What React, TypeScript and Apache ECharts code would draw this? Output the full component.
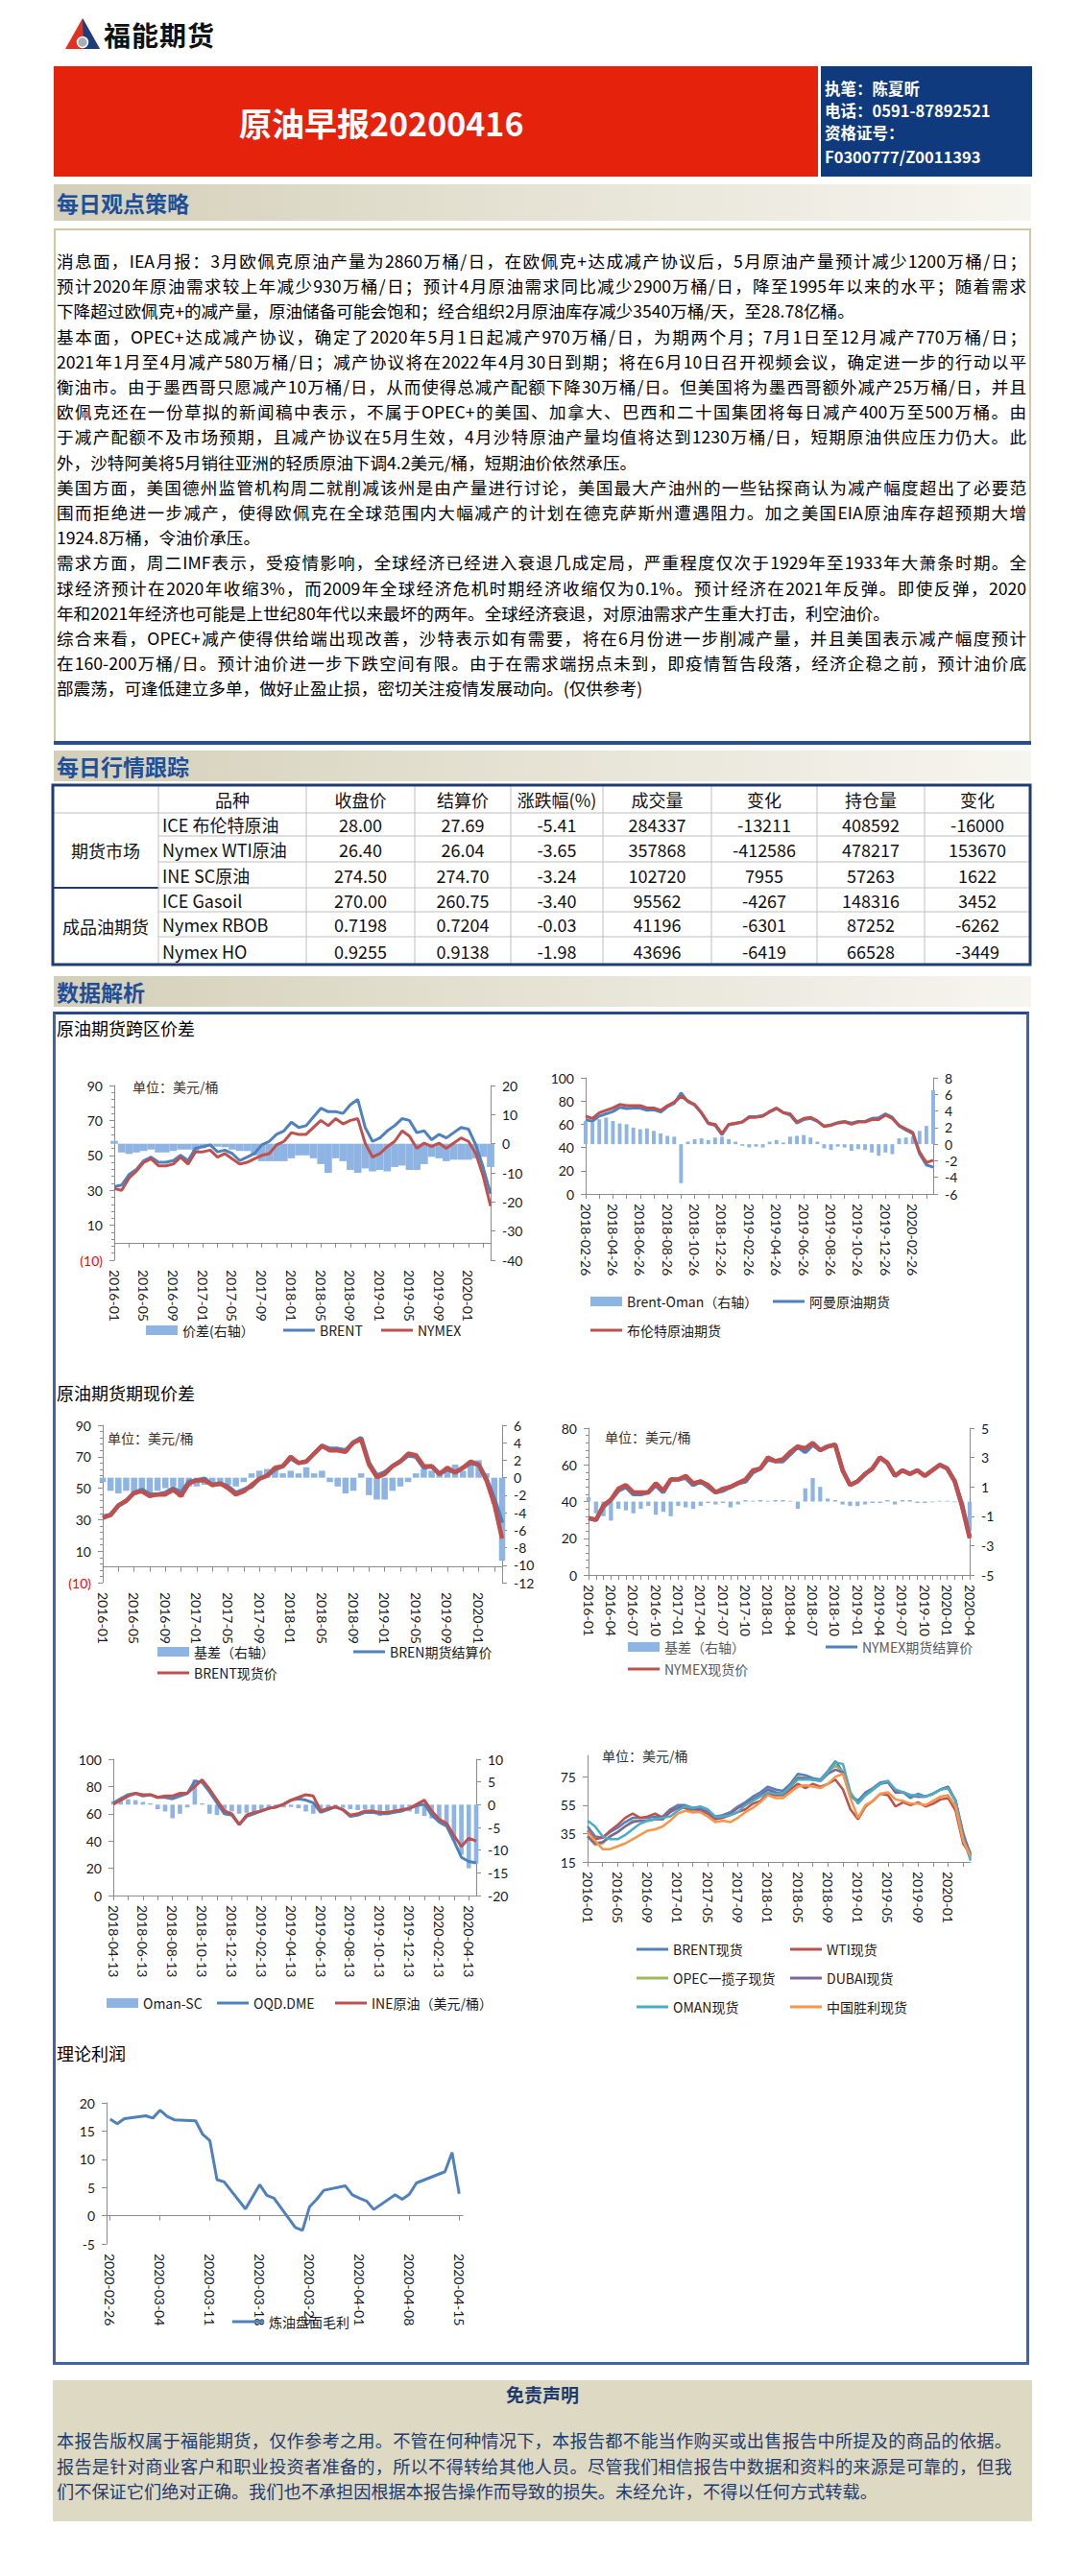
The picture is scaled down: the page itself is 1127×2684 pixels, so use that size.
import React, { useEffect, useRef } from "react";
import * as echarts from "echarts";

const FONT_CN = '"Noto Sans CJK SC", "Noto Sans", sans-serif';
const FONT_NUM = 'Lato, "Noto Sans CJK SC", sans-serif';

/* ---------------- report text ---------------- */
const strategyLines = [
  "消息面，IEA月报：3月欧佩克原油产量为2860万桶/日，在欧佩克+达成减产协议后，5月原油产量预计减少1200万桶/日；",
  "预计2020年原油需求较上年减少930万桶/日；预计4月原油需求同比减少2900万桶/日，降至1995年以来的水平；随着需求",
  "下降超过欧佩克+的减产量，原油储备可能会饱和；经合组织2月原油库存减少3540万桶/天，至28.78亿桶。",
  "基本面，OPEC+达成减产协议，确定了2020年5月1日起减产970万桶/日，为期两个月；7月1日至12月减产770万桶/日；",
  "2021年1月至4月减产580万桶/日；减产协议将在2022年4月30日到期；将在6月10日召开视频会议，确定进一步的行动以平",
  "衡油市。由于墨西哥只愿减产10万桶/日，从而使得总减产配额下降30万桶/日。但美国将为墨西哥额外减产25万桶/日，并且",
  "欧佩克还在一份草拟的新闻稿中表示，不属于OPEC+的美国、加拿大、巴西和二十国集团将每日减产400万至500万桶。由",
  "于减产配额不及市场预期，且减产协议在5月生效，4月沙特原油产量均值将达到1230万桶/日，短期原油供应压力仍大。此",
  "外，沙特阿美将5月销往亚洲的轻质原油下调4.2美元/桶，短期油价依然承压。",
  "美国方面，美国德州监管机构周二就削减该州是由产量进行讨论，美国最大产油州的一些钻探商认为减产幅度超出了必要范",
  "围而拒绝进一步减产，使得欧佩克在全球范围内大幅减产的计划在德克萨斯州遭遇阻力。加之美国EIA原油库存超预期大增",
  "1924.8万桶，令油价承压。",
  "需求方面，周二IMF表示，受疫情影响，全球经济已经进入衰退几成定局，严重程度仅次于1929年至1933年大萧条时期。全",
  "球经济预计在2020年收缩3%，而2009年全球经济危机时期经济收缩仅为0.1%。预计经济在2021年反弹。即使反弹，2020",
  "年和2021年经济也可能是上世纪80年代以来最坏的两年。全球经济衰退，对原油需求产生重大打击，利空油价。",
  "综合来看，OPEC+减产使得供给端出现改善，沙特表示如有需要，将在6月份进一步削减产量，并且美国表示减产幅度预计",
  "在160-200万桶/日。预计油价进一步下跌空间有限。由于在需求端拐点未到，即疫情暂告段落，经济企稳之前，预计油价底",
  "部震荡，可逢低建立多单，做好止盈止损，密切关注疫情发展动向。(仅供参考)",
];
const paragraphEnds = [2, 8, 11, 14, 17];

const disclaimerLines = [
  "本报告版权属于福能期货，仅作参考之用。不管在何种情况下，本报告都不能当作购买或出售报告中所提及的商品的依据。",
  "报告是针对商业客户和职业投资者准备的，所以不得转给其他人员。尽管我们相信报告中数据和资料的来源是可靠的，但我",
  "们不保证它们绝对正确。我们也不承担因根据本报告操作而导致的损失。未经允许，不得以任何方式转载。",
];

/* ---------------- market table ---------------- */
const tableHeader = ["品种", "收盘价", "结算价", "涨跌幅(%)", "成交量", "变化", "持仓量", "变化"];
const tableGroups = ["期货市场", "成品油期货"];
const products = ["ICE 布伦特原油", "Nymex WTI原油", "INE SC原油", "ICE Gasoil", "Nymex RBOB", "Nymex HO"];
const closePrice = ["28.00", "26.40", "274.50", "270.00", "0.7198", "0.9255"];
const settlePrice = ["27.69", "26.04", "274.70", "260.75", "0.7204", "0.9138"];
const changePct = ["-5.41", "-3.65", "-3.24", "-3.40", "-0.03", "-1.98"];
const volume = ["284337", "357868", "102720", "95562", "41196", "43696"];
const volumeChange = ["-13211", "-412586", "7955", "-4267", "-6301", "-6419"];
const openInterest = ["408592", "478217", "57263", "148316", "87252", "66528"];
const oiChange = ["-16000", "153670", "1622", "3452", "-6262", "-3449"];

/* ---------------- chart data ---------------- */
const monthLabels = [
  "2016-01", "2016-02", "2016-03", "2016-04", "2016-05", "2016-06", "2016-07", "2016-08", "2016-09", "2016-10", "2016-11", "2016-12",
  "2017-01", "2017-02", "2017-03", "2017-04", "2017-05", "2017-06", "2017-07", "2017-08", "2017-09", "2017-10", "2017-11", "2017-12",
  "2018-01", "2018-02", "2018-03", "2018-04", "2018-05", "2018-06", "2018-07", "2018-08", "2018-09", "2018-10", "2018-11", "2018-12",
  "2019-01", "2019-02", "2019-03", "2019-04", "2019-05", "2019-06", "2019-07", "2019-08", "2019-09", "2019-10", "2019-11", "2019-12",
  "2020-01", "2020-02", "2020-03", "2020-04",
];

// chart 1: 原油期货跨区价差
const brentFutures = [32, 33, 39, 42, 47, 49, 46, 46, 47, 50, 47, 54, 55, 56, 52, 53, 51, 47, 49, 51, 56, 58, 62, 64, 69, 66, 67, 72, 77, 75, 75, 74, 79, 82, 66, 58, 60, 64, 67, 71, 70, 63, 64, 59, 62, 60, 63, 66, 65, 56, 43, 28];
const nymexFutures = [31, 30, 37, 41, 46, 48, 44, 44, 45, 49, 45, 52, 52, 53, 49, 51, 48, 45, 46, 48, 50, 51, 56, 58, 63, 62, 62, 66, 70, 67, 71, 68, 70, 71, 57, 49, 51, 55, 58, 64, 61, 54, 57, 55, 57, 54, 57, 60, 58, 51, 38, 21];
const interRegionSpread = [1.0, -3.0, -3.5, -3.0, -2.5, -2.0, -3.0, -3.0, -2.5, -2.0, -2.0, -2.5, -1.5, -1.0, -1.0, -1.2, -2.0, -2.5, -2.5, -4.0, -6.0, -6.0, -6.0, -6.0, -5.0, -4.0, -4.0, -5.0, -7.0, -10.0, -5.0, -6.0, -9.0, -10.0, -8.5, -9.5, -9.0, -9.5, -8.0, -7.5, -9.0, -9.0, -7.0, -4.5, -5.0, -6.0, -5.5, -5.5, -5.5, -5.0, -4.5, -8.0];

// chart 2: Brent-Oman
const c2Dates = [
  "2018-02-26", "2018-03-11", "2018-03-26", "2018-04-11", "2018-04-26", "2018-05-11", "2018-05-26", "2018-06-11", "2018-06-26", "2018-07-11", "2018-07-26", "2018-08-11", "2018-08-26",
  "2018-09-11", "2018-09-26", "2018-10-11", "2018-10-26", "2018-11-11", "2018-11-26", "2018-12-11", "2018-12-26", "2019-01-11", "2019-01-26", "2019-02-11", "2019-02-26", "2019-03-11",
  "2019-03-26", "2019-04-11", "2019-04-26", "2019-05-11", "2019-05-26", "2019-06-11", "2019-06-26", "2019-07-11", "2019-07-26", "2019-08-11", "2019-08-26", "2019-09-11", "2019-09-26",
  "2019-10-11", "2019-10-26", "2019-11-11", "2019-11-26", "2019-12-11", "2019-12-26", "2020-01-11", "2020-01-26", "2020-02-11", "2020-02-26", "2020-03-11", "2020-03-26", "2020-04-11",
];
const brentC2 = [67, 65, 70, 72, 74, 77, 76, 76, 76, 74, 74, 72, 76, 79, 84, 80, 77, 70, 61, 60, 52, 60, 61, 62, 66, 66, 67, 71, 74, 70, 69, 62, 65, 66, 63, 58, 59, 61, 62, 60, 62, 62, 64, 64, 68, 65, 59, 56, 53, 36, 27, 29];
const omanC2 = [64, 62.5, 67, 69, 71, 74.5, 73.5, 74, 74, 72, 72.5, 70.5, 75, 78, 87, 79.5, 76.5, 69.5, 60.5, 59, 51, 59.5, 60.5, 62, 66.5, 66.5, 67.5, 70.5, 73.5, 70, 68, 61, 64, 65, 62.5, 58.5, 59.5, 61.5, 62.5, 61, 62.5, 62.5, 65, 65.5, 69, 66, 58.5, 55, 52, 34.5, 25, 23];
const brentOmanSpread = [2.8, 2.6, 3.0, 3.2, 2.8, 2.5, 2.4, 2.0, 1.8, 1.9, 1.6, 1.3, 1.0, 0.9, -4.7, 0.3, 0.6, 0.7, 0.5, 0.8, 0.9, 0.6, 0.3, -0.2, -0.4, -0.3, -0.4, 0.3, 0.5, 0.2, 0.9, 1.0, 1.1, 0.8, 0.3, -0.5, -0.7, -0.3, -0.4, -0.8, -0.6, -0.7, -1.0, -1.4, -1.0, -1.2, 0.7, 0.8, 0.9, 1.6, 2.2, 6.5];

// chart 3: BRENT 期现价差
const brentSpot = [31, 33, 39, 42, 47, 48, 45, 46, 46, 49, 45, 53, 55, 55, 52, 53, 50, 46, 48, 52, 56, 58, 63, 64, 70, 66, 67, 72, 77, 74, 74, 73, 79, 81, 65, 57, 59, 64, 67, 72, 71, 64, 64, 59, 63, 60, 63, 67, 65, 55, 40, 18];
const brentBasis = [-0.5, -1.5, -1.8, -1.5, -2.0, -1.5, -1.8, -1.5, -1.2, -1.0, -2.2, -1.0, -1.0, -0.8, -0.8, -1.0, -0.8, -1.0, -0.5, 0.5, 0.8, 1.0, 1.2, 0.5, 0.8, 0.5, 1.2, 0.5, 0.8, -0.5, -1.0, -1.8, -1.5, 0.5, -2.0, -2.5, -2.5, -1.5, -1.0, -0.5, 0.5, 1.0, 0.8, 0.5, 1.0, 1.5, 0.8, 1.5, 2.0, 0.5, -3.0, -9.5];

// chart 4: NYMEX 期现价差
const nymexSpot = [31, 30, 38, 41, 47, 49, 45, 45, 45, 50, 46, 52, 52, 54, 50, 51, 49, 45, 47, 48, 50, 52, 57, 58, 64, 62, 63, 67, 70, 69, 72, 68, 70, 71, 57, 49, 51, 55, 58, 64, 61, 54, 57, 55, 57, 54, 57, 60, 58, 51, 37, 20];
const nymexBasis = [0.3, -0.8, -1.0, -1.3, -0.5, -0.6, -0.8, -0.5, -0.3, -0.9, -0.7, -1.0, -0.3, -0.4, -0.5, -0.3, -0.1, -0.2, -0.1, -0.4, -0.2, 0.1, 0.05, 0.1, 0.05, 0.1, 0.1, 0.05, -0.5, 0.9, 1.6, 1.0, 0.2, 0.1, -0.2, -0.3, -0.3, -0.2, -0.1, -0.1, 0.1, -0.2, 0.1, 0.1, -0.1, -0.1, -0.05, 0.05, 0.05, -0.05, -0.5, -2.0];

// chart 5: Oman-SC
const c5Dates = [
  "2018-04-13", "2018-04-28", "2018-05-13", "2018-05-28", "2018-06-13", "2018-06-28", "2018-07-13", "2018-07-28", "2018-08-13", "2018-08-28", "2018-09-13", "2018-09-28",
  "2018-10-13", "2018-10-28", "2018-11-13", "2018-11-28", "2018-12-13", "2018-12-28", "2019-01-13", "2019-01-28", "2019-02-13", "2019-02-28", "2019-03-13", "2019-03-28",
  "2019-04-13", "2019-04-28", "2019-05-13", "2019-05-28", "2019-06-13", "2019-06-28", "2019-07-13", "2019-07-28", "2019-08-13", "2019-08-28", "2019-09-13", "2019-09-28",
  "2019-10-13", "2019-10-28", "2019-11-13", "2019-11-28", "2019-12-13", "2019-12-28", "2020-01-13", "2020-01-28", "2020-02-13", "2020-02-28", "2020-03-13", "2020-03-28",
  "2020-04-13", "2020-04-15",
];
const oqdDme = [68, 71, 74, 75, 73, 74, 72, 72, 71, 73, 75, 84, 83, 76, 68, 60, 59, 52, 58, 60, 62, 64, 65, 67, 70, 71, 70, 68, 61, 63, 65, 63, 58, 59, 61, 61, 60, 60, 61, 62, 64, 66, 67, 59, 54, 51, 40, 28, 25, 24];
const ineCrudeUsd = [67, 70, 73, 75, 74, 74, 72, 73, 73, 75, 75, 80, 85, 78, 70, 62, 60, 52, 59, 61, 62, 64, 65, 67, 70, 72, 74, 73, 62, 64, 65, 63, 59, 60, 62, 62, 61, 61, 62, 63, 64, 67, 70, 62, 56, 53, 44, 36, 42, 40];
const omanScSpread = [0.8, 1.0, 1.2, 1.0, 0.6, 0.3, -1.0, -1.5, -3.0, -2.0, -0.6, 5.5, 0.3, -2.0, -2.3, -1.8, -1.5, -2.0, -1.8, -1.5, -1.2, -1.0, -0.8, -0.6, -0.5, -0.8, -1.5, -2.0, -1.5, -1.2, -0.8, -0.7, -1.0, -1.2, -1.0, -1.3, -2.5, -1.8, -1.2, -1.3, -1.5, -2.0, -2.5, -3.0, -3.5, -4.5, -8.0, -11.0, -14.0, -13.0];

// chart 6: 现货
const spotBrent6 = [40, 33, 32, 36, 39, 43, 46, 46, 46, 47, 47, 52, 55, 55, 53, 53, 51, 47, 48, 50, 54, 57, 61, 64, 68, 66, 65, 70, 77, 76, 74, 73, 79, 86, 78, 62, 58, 64, 67, 71, 72, 64, 64, 60, 63, 61, 63, 66, 67, 58, 34, 21];
const spotWti6 = [37, 31, 32, 37, 41, 46, 49, 46, 47, 49, 46, 51, 53, 53, 50, 51, 49, 45, 46, 48, 50, 52, 56, 58, 63, 62, 62, 66, 70, 67, 70, 68, 70, 73, 66, 52, 45, 54, 58, 63, 62, 54, 57, 55, 57, 54, 56, 59, 60, 51, 28, 20];
const spotOpec6 = [33, 27, 28, 33, 36, 40, 44, 44, 44, 45, 45, 50, 53, 54, 52, 52, 50, 46, 47, 49, 53, 56, 59, 62, 66, 64, 63, 68, 75, 74, 73, 72, 78, 83, 78, 62, 57, 62, 66, 70, 71, 64, 64, 62, 61, 61, 63, 66, 68, 58, 36, 18];
const spotDubai6 = [33, 28, 29, 33, 36, 40, 43, 44, 44, 45, 45, 50, 53, 54, 52, 52, 50, 46, 47, 49, 53, 56, 59, 62, 66, 64, 63, 68, 74, 74, 73, 72, 77, 80, 78, 62, 57, 62, 66, 70, 71, 64, 64, 62, 61, 61, 63, 66, 68, 58, 35, 19];
const spotOman6 = [44, 40, 33, 31, 31, 34, 38, 42, 44, 45, 46, 47, 51, 54, 53, 54, 52, 47, 47, 48, 50, 55, 58, 61, 64, 63, 63, 68, 73, 73, 73, 72, 78, 85, 84, 64, 56, 62, 66, 70, 72, 66, 64, 62, 62, 61, 63, 66, 67, 58, 32, 16];
const spotShengli6 = [36, 30, 24, 24, 26, 28, 31, 34, 37, 38, 40, 44, 49, 51, 50, 50, 47, 43, 44, 43, 46, 50, 53, 57, 62, 60, 60, 64, 68, 69, 68, 67, 70, 75, 77, 60, 46, 55, 58, 63, 64, 59, 58, 56, 56, 55, 58, 61, 62, 54, 30, 19];

// chart 7: 理论利润
const profitDates = [
  "2020-02-26", "2020-02-27", "2020-02-28", "2020-02-29", "2020-03-01", "2020-03-02", "2020-03-03", "2020-03-04", "2020-03-05", "2020-03-06",
  "2020-03-07", "2020-03-08", "2020-03-09", "2020-03-10", "2020-03-11", "2020-03-12", "2020-03-13", "2020-03-14", "2020-03-15", "2020-03-16",
  "2020-03-17", "2020-03-18", "2020-03-19", "2020-03-20", "2020-03-21", "2020-03-22", "2020-03-23", "2020-03-24", "2020-03-25", "2020-03-26",
  "2020-03-27", "2020-03-28", "2020-03-29", "2020-03-30", "2020-03-31", "2020-04-01", "2020-04-02", "2020-04-03", "2020-04-04", "2020-04-05",
  "2020-04-06", "2020-04-07", "2020-04-08", "2020-04-09", "2020-04-10", "2020-04-11", "2020-04-12", "2020-04-13", "2020-04-14", "2020-04-15",
];
const refiningMargin = [17.1, 16.3, 17.2, null, null, 17.7, 17.3, 18.7, 17.6, 17.0, null, null, 16.8, 14.4, 13.3, 6.4, 6.0, null, null, 1.2, null, 5.5, 3.6, 3.1, null, null, -2.1, -2.6, 1.6, 2.9, 4.5, null, null, 5.3, 3.7, 3.1, 2.6, 1.1, null, null, 3.7, 2.9, 3.8, 5.8, null, null, null, 7.8, 11.2, 3.9];

/* ---------------- chart helpers ---------------- */
const BLUE = "#4F81BD";
const RED = "#C0504D";
const GREEN = "#9BBB59";
const PURPLE = "#8064A2";
const AQUA = "#4BACC6";
const ORANGE = "#F79646";
const BAR = "#8EB4E3";
const AXIS = "#8C8C8C";
const TXT = "#1A1A1A";

function catAxis(data: string[], labelInterval: number, tickInterval: number, boundaryGap = false) {
  return {
    type: "category",
    data,
    boundaryGap,
    axisLine: { show: true, onZero: true, onZeroAxisIndex: 0, lineStyle: { color: AXIS, width: 1 } },
    axisTick: { show: true, interval: tickInterval, length: 5, alignWithLabel: boundaryGap, lineStyle: { color: AXIS } },
    axisLabel: { interval: labelInterval, rotate: -90, margin: 10, fontSize: 14, color: TXT, fontFamily: FONT_NUM },
    splitLine: { show: false },
  };
}

function valAxis(position: string, min: number, max: number, interval: number, o: any = {}) {
  const axisLabel: any = { margin: 12, fontSize: 14, color: TXT, fontFamily: FONT_NUM };
  if (o.paren) {
    axisLabel.formatter = (v: number) => (v < 0 ? `{neg|(${-v})}` : String(v));
    axisLabel.rich = { neg: { color: "#FF0000", fontSize: 14, fontFamily: FONT_NUM } };
  }
  if (o.hideMax) axisLabel.showMaxLabel = false;
  return {
    type: "value",
    position,
    min,
    max,
    interval,
    axisLine: { show: true, lineStyle: { color: AXIS, width: 1 } },
    axisTick: { show: true, length: 5, lineStyle: { color: AXIS } },
    minorTick: { show: !!o.minor, splitNumber: 5, length: 3, lineStyle: { color: AXIS } },
    splitLine: { show: false },
    minorSplitLine: { show: false },
    axisLabel,
  };
}

function legendItem(name: string, left: number, centerY: number, kind: string, color = TXT) {
  return {
    show: true,
    data: [name],
    left,
    top: centerY - 8,
    icon: "rect",
    itemWidth: 33,
    itemHeight: kind === "bar" ? 10 : 3,
    itemGap: 0,
    padding: 0,
    selectedMode: false,
    textStyle: { fontSize: 14, color, fontFamily: FONT_CN },
  };
}

function textEl(text: string, left: number, centerY: number, size: number, color: string) {
  return {
    type: "text",
    left,
    top: centerY - size * 0.62,
    silent: true,
    style: { text, fontSize: size, fontFamily: FONT_CN, fill: color },
  };
}

function lineSeries(name: string, data: any[], color: string, width: number, extra: any = {}) {
  return {
    name,
    type: "line",
    data,
    symbol: "none",
    lineStyle: { width, color },
    itemStyle: { color },
    z: 3,
    ...extra,
  };
}

function barSeries(name: string, data: number[], width: string) {
  return {
    name,
    type: "bar",
    yAxisIndex: 1,
    data,
    barWidth: width,
    itemStyle: { color: BAR },
    z: 2,
  };
}

function gridBox(left: number, top: number, width: number, height: number) {
  return { left, top, width, height, containLabel: false, outerBoundsMode: "none" };
}

/* ---------------- chart options ---------------- */
const opt1 = {
  animation: false,
  graphic: [textEl("原油期货跨区价差", 2, 15, 18, "#000"), textEl("单位：美元/桶", 81, 76, 14, "#333")],
  grid: gridBox(62, 73, 392, 182),
  legend: [
    legendItem("价差(右轴）", 95, 329, "bar"),
    legendItem("BRENT", 238, 329, "line"),
    legendItem("NYMEX", 340, 329, "line"),
  ],
  xAxis: catAxis(monthLabels, 3, 1),
  yAxis: [valAxis("left", -10, 90, 20, { minor: true, paren: true }), valAxis("right", -40, 20, 10)],
  series: [
    barSeries("价差(右轴）", interRegionSpread, "100%"),
    lineSeries("BRENT", brentFutures, BLUE, 3),
    lineSeries("NYMEX", nymexFutures, RED, 3),
  ],
};

const opt2 = {
  animation: false,
  grid: gridBox(50, 65, 362, 121),
  legend: [
    legendItem("Brent-Oman（右轴）", 55, 299, "bar"),
    legendItem("阿曼原油期货", 245, 299, "line"),
    legendItem("布伦特原油期货", 55, 329, "line"),
  ],
  xAxis: catAxis(c2Dates, 3, 1),
  yAxis: [valAxis("left", 0, 100, 20), valAxis("right", -6, 8, 2)],
  series: [
    barSeries("Brent-Oman（右轴）", brentOmanSpread, "55%"),
    lineSeries("阿曼原油期货", omanC2, BLUE, 3),
    lineSeries("布伦特原油期货", brentC2, RED, 3),
  ],
};

const opt3 = {
  animation: false,
  graphic: [textEl("原油期货期现价差", 2, 23, 18, "#000"), textEl("单位：美元/桶", 55, 70, 14, "#333")],
  grid: gridBox(50, 55, 416, 164),
  legend: [
    legendItem("基差（右轴）", 107, 292, "bar"),
    legendItem("BREN期货结算价", 311, 292, "line"),
    legendItem("BRENT现货价", 107, 314, "line"),
  ],
  xAxis: catAxis(monthLabels, 3, 1),
  yAxis: [valAxis("left", -10, 90, 20, { minor: true, paren: true }), valAxis("right", -12, 6, 2)],
  series: [
    barSeries("基差（右轴）", brentBasis, "80%"),
    lineSeries("BREN期货结算价", brentFutures, BLUE, 4.5),
    lineSeries("BRENT现货价", brentSpot, RED, 4.5),
  ],
};

const opt4 = {
  animation: false,
  graphic: [textEl("单位：美元/桶", 70, 69, 14, "#333")],
  grid: gridBox(53, 58, 397, 153),
  legend: [
    legendItem("基差（右轴）", 94, 287, "bar", "#595959"),
    legendItem("NYMEX期货结算价", 300, 287, "line", "#595959"),
    legendItem("NYMEX现货价", 94, 310, "line", "#595959"),
  ],
  xAxis: catAxis(monthLabels, 2, 0),
  yAxis: [valAxis("left", 0, 80, 20, { minor: true }), valAxis("right", -5, 5, 2)],
  series: [
    barSeries("基差（右轴）", nymexBasis, "55%"),
    lineSeries("NYMEX期货结算价", nymexFutures, BLUE, 4.5),
    lineSeries("NYMEX现货价", nymexSpot, RED, 4.5),
  ],
};

const opt5 = {
  animation: false,
  grid: gridBox(61, 28, 378, 142),
  legend: [
    legendItem("Oman-SC", 54, 283, "bar"),
    legendItem("OQD.DME", 169, 283, "line"),
    legendItem("INE原油（美元/桶）", 292, 283, "line"),
  ],
  xAxis: catAxis(c5Dates, 3, 1),
  yAxis: [valAxis("left", 0, 100, 20), valAxis("right", -20, 10, 5)],
  series: [
    barSeries("Oman-SC", omanScSpread, "60%"),
    lineSeries("OQD.DME", oqdDme, BLUE, 3),
    lineSeries("INE原油（美元/桶）", ineCrudeUsd, RED, 3),
  ],
};

const opt6 = {
  animation: false,
  graphic: [textEl("单位：美元/桶", 67, 26, 14, "#333")],
  grid: gridBox(52, 24, 399, 111),
  legend: [
    legendItem("BRENT现货", 103, 227, "line"),
    legendItem("WTI现货", 263, 227, "line"),
    legendItem("OPEC一揽子现货", 103, 257, "line"),
    legendItem("DUBAI现货", 263, 257, "line"),
    legendItem("OMAN现货", 103, 287, "line"),
    legendItem("中国胜利现货", 263, 287, "line"),
  ],
  xAxis: catAxis(monthLabels, 3, 1),
  yAxis: [valAxis("left", 15, 90, 20, { hideMax: true })],
  series: [
    lineSeries("BRENT现货", spotBrent6, BLUE, 2.5),
    lineSeries("WTI现货", spotWti6, RED, 2.5),
    lineSeries("OPEC一揽子现货", spotOpec6, GREEN, 2.5),
    lineSeries("DUBAI现货", spotDubai6, PURPLE, 2.5),
    lineSeries("OMAN现货", spotOman6, AQUA, 2.5),
    lineSeries("中国胜利现货", spotShengli6, ORANGE, 2.5),
  ],
};

const opt7 = {
  animation: false,
  graphic: [textEl("理论利润", 2, 16, 18, "#000")],
  grid: gridBox(54, 66, 371, 147),
  legend: [legendItem("炼油盘面毛利", 185, 295, "line")],
  xAxis: catAxis(profitDates, 6, 6, true),
  yAxis: [valAxis("left", -5, 20, 5)],
  series: [lineSeries("炼油盘面毛利", refiningMargin, BLUE, 3, { connectNulls: true })],
};

/* ---------------- components ---------------- */
function EChart({ option, left, top, width, height }: any) {
  const ref = useRef<HTMLDivElement>(null);
  useEffect(() => {
    if (!ref.current) return;
    const chart = echarts.init(ref.current, undefined, { renderer: "svg" });
    chart.setOption(option);
    return () => chart.dispose();
  }, [option]);
  return <div ref={ref} style={{ position: "absolute", left, top, width, height }} />;
}

function SectionBar({ top, height, text }: { top: number; height: number; text: string }) {
  return (
    <div
      style={{
        position: "absolute",
        left: 56,
        top,
        width: 1018,
        height,
        background: "linear-gradient(90deg, #D3CFB8 0%, #E4E1D2 45%, #F6F5EF 100%)",
      }}
    >
      <div
        style={{
          position: "absolute",
          left: 3,
          top: 0,
          height,
          lineHeight: `${height}px`,
          fontSize: 23,
          fontWeight: 700,
          color: "#1F4E9B",
          fontFamily: FONT_CN,
        }}
      >
        {text}
      </div>
    </div>
  );
}

const colX = [55, 165, 319, 432, 532, 628, 741, 851, 963, 1073];
const rowY = [818, 847, 871, 898, 925, 950, 976, 1005];

function MarketTable() {
  const cols = [closePrice, settlePrice, changePct, volume, volumeChange, openInterest, oiChange];
  const center = (i: number) => (colX[i] + colX[i + 1]) / 2;
  const rowC = (r: number) => (rowY[r] + rowY[r + 1]) / 2;
  const texts: any[] = [];
  tableHeader.forEach((h, i) => {
    texts.push(
      <text key={"h" + i} x={center(i + 1)} y={rowC(0)} textAnchor="middle" dominantBaseline="central">
        {h}
      </text>
    );
  });
  products.forEach((p, r) => {
    texts.push(
      <text key={"p" + r} x={169} y={rowC(r + 1)} dominantBaseline="central">
        {p}
      </text>
    );
    cols.forEach((col, c) => {
      texts.push(
        <text key={"c" + r + "_" + c} x={center(c + 2)} y={rowC(r + 1)} textAnchor="middle" dominantBaseline="central">
          {col[r]}
        </text>
      );
    });
  });
  texts.push(
    <text key="g0" x={center(0)} y={(rowY[1] + rowY[4]) / 2} textAnchor="middle" dominantBaseline="central">
      {tableGroups[0]}
    </text>
  );
  texts.push(
    <text key="g1" x={center(0)} y={(rowY[4] + rowY[7]) / 2} textAnchor="middle" dominantBaseline="central">
      {tableGroups[1]}
    </text>
  );
  const lines: any[] = [];
  for (let r = 1; r < rowY.length - 1; r++) {
    const full = r === 1 || r === 4;
    lines.push(<line key={"hl" + r} x1={full ? colX[0] : colX[1]} x2={colX[9]} y1={rowY[r]} y2={rowY[r]} stroke="#BFBFBF" strokeWidth={1} />);
  }
  lines.push(<line key="gsep" x1={colX[0]} x2={colX[1]} y1={rowY[4]} y2={rowY[4]} stroke="#1F3B73" strokeWidth={2} />);
  for (let c = 1; c < colX.length - 1; c++) {
    lines.push(<line key={"vl" + c} x1={colX[c]} x2={colX[c]} y1={rowY[0]} y2={rowY[7]} stroke="#BFBFBF" strokeWidth={1} />);
  }
  return (
    <svg style={{ position: "absolute", left: 0, top: 0 }} width={1127} height={1012}>
      <rect x={colX[0]} y={rowY[0]} width={colX[9] - colX[0]} height={rowY[7] - rowY[0]} fill="#fff" />
      {lines}
      <rect x={colX[0]} y={rowY[0]} width={colX[9] - colX[0]} height={rowY[7] - rowY[0]} fill="none" stroke="#1F3B73" strokeWidth={3} />
      <g fontFamily={FONT_CN} fontSize={18} fill="#111">
        {texts}
      </g>
    </svg>
  );
}

export default function App() {
  return (
    <div
      style={{
        position: "absolute",
        left: 0,
        top: 0,
        width: 1127,
        height: 2684,
        background: "#fff",
        overflow: "hidden",
        fontFamily: FONT_CN,
      }}
    >
      {/* logo */}
      <svg style={{ position: "absolute", left: 66, top: 18 }} width={40} height={34} viewBox="0 0 40 34">
        <polygon points="20,1 2,33 38,33" fill="#E2321F" />
        <polygon points="20,1 38,33 21,33" fill="#1D3E7C" />
        <circle cx="20" cy="26" r="5.5" fill="#A7AFBD" stroke="#fff" strokeWidth="1.5" />
      </svg>
      <div
        style={{
          position: "absolute",
          left: 108,
          top: 16,
          fontSize: 28,
          lineHeight: "40px",
          fontWeight: 700,
          color: "#111",
          letterSpacing: 1,
        }}
      >
        福能期货
      </div>

      {/* title banner */}
      <div style={{ position: "absolute", left: 56, top: 69, width: 796, height: 115, background: "#E5220B" }} />
      <div
        style={{
          position: "absolute",
          left: 249,
          top: 106,
          fontSize: 34,
          lineHeight: "44px",
          fontWeight: 700,
          color: "#fff",
        }}
      >
        原油早报20200416
      </div>
      <div style={{ position: "absolute", left: 855, top: 69, width: 220, height: 115, background: "#0F3B7E" }} />
      {["执笔：陈夏昕", "电话：0591-87892521", "资格证号：", "F0300777/Z0011393"].map((t, i) => (
        <div
          key={t}
          style={{
            position: "absolute",
            left: 859,
            top: [92, 115, 138, 163][i] - 12,
            fontSize: 16.5,
            lineHeight: "24px",
            fontWeight: 700,
            color: "#fff",
            whiteSpace: "nowrap",
          }}
        >
          {t}
        </div>
      ))}

      {/* 每日观点策略 */}
      <SectionBar top={192} height={38} text="每日观点策略" />
      <div
        style={{
          position: "absolute",
          left: 56,
          top: 238,
          width: 1018,
          height: 536,
          border: "2px solid #CFC7A6",
          borderBottom: "none",
          boxSizing: "border-box",
        }}
      />
      {strategyLines.map((t, i) => (
        <div
          key={i}
          style={{
            position: "absolute",
            left: 59,
            top: 259 + i * 26.2,
            width: 1010,
            height: 26,
            lineHeight: "26px",
            fontSize: 17.6,
            color: "#000",
            textAlign: "justify",
            textAlignLast: paragraphEnds.includes(i) ? "left" : "justify",
          }}
        >
          {t}
        </div>
      ))}
      <div style={{ position: "absolute", left: 56, top: 772, width: 1018, height: 4, background: "#2D4F88" }} />

      {/* 每日行情跟踪 */}
      <SectionBar top={782} height={32} text="每日行情跟踪" />
      <MarketTable />

      {/* 数据解析 */}
      <SectionBar top={1017} height={32} text="数据解析" />
      <div
        style={{
          position: "absolute",
          left: 55,
          top: 1054,
          width: 1017,
          height: 1410,
          border: "3px solid #3F65A8",
          borderTopColor: "#27498A",
          boxSizing: "border-box",
        }}
      />
      <EChart option={opt1} left={57} top={1058} width={503} height={350} />
      <EChart option={opt2} left={560} top={1058} width={508} height={350} />
      <EChart option={opt3} left={57} top={1430} width={503} height={340} />
      <EChart option={opt4} left={560} top={1430} width={508} height={340} />
      <EChart option={opt5} left={57} top={1805} width={503} height={305} />
      <EChart option={opt6} left={560} top={1805} width={508} height={305} />
      <EChart option={opt7} left={57} top={2125} width={503} height={320} />

      {/* 免责声明 */}
      <div style={{ position: "absolute", left: 55, top: 2480, width: 1020, height: 147, background: "#DDD9C3" }} />
      <div
        style={{
          position: "absolute",
          left: 55,
          top: 2481,
          width: 1020,
          textAlign: "center",
          fontSize: 19,
          lineHeight: "28px",
          fontWeight: 700,
          color: "#1F3A6E",
        }}
      >
        免责声明
      </div>
      {disclaimerLines.map((t, i) => (
        <div
          key={i}
          style={{
            position: "absolute",
            left: 59,
            top: 2529 + i * 26.5,
            width: 995,
            height: 26,
            lineHeight: "26px",
            fontSize: 18.2,
            color: "#1F3A6E",
            textAlign: "justify",
            textAlignLast: i === 2 ? "left" : "justify",
          }}
        >
          {t}
        </div>
      ))}
    </div>
  );
}
